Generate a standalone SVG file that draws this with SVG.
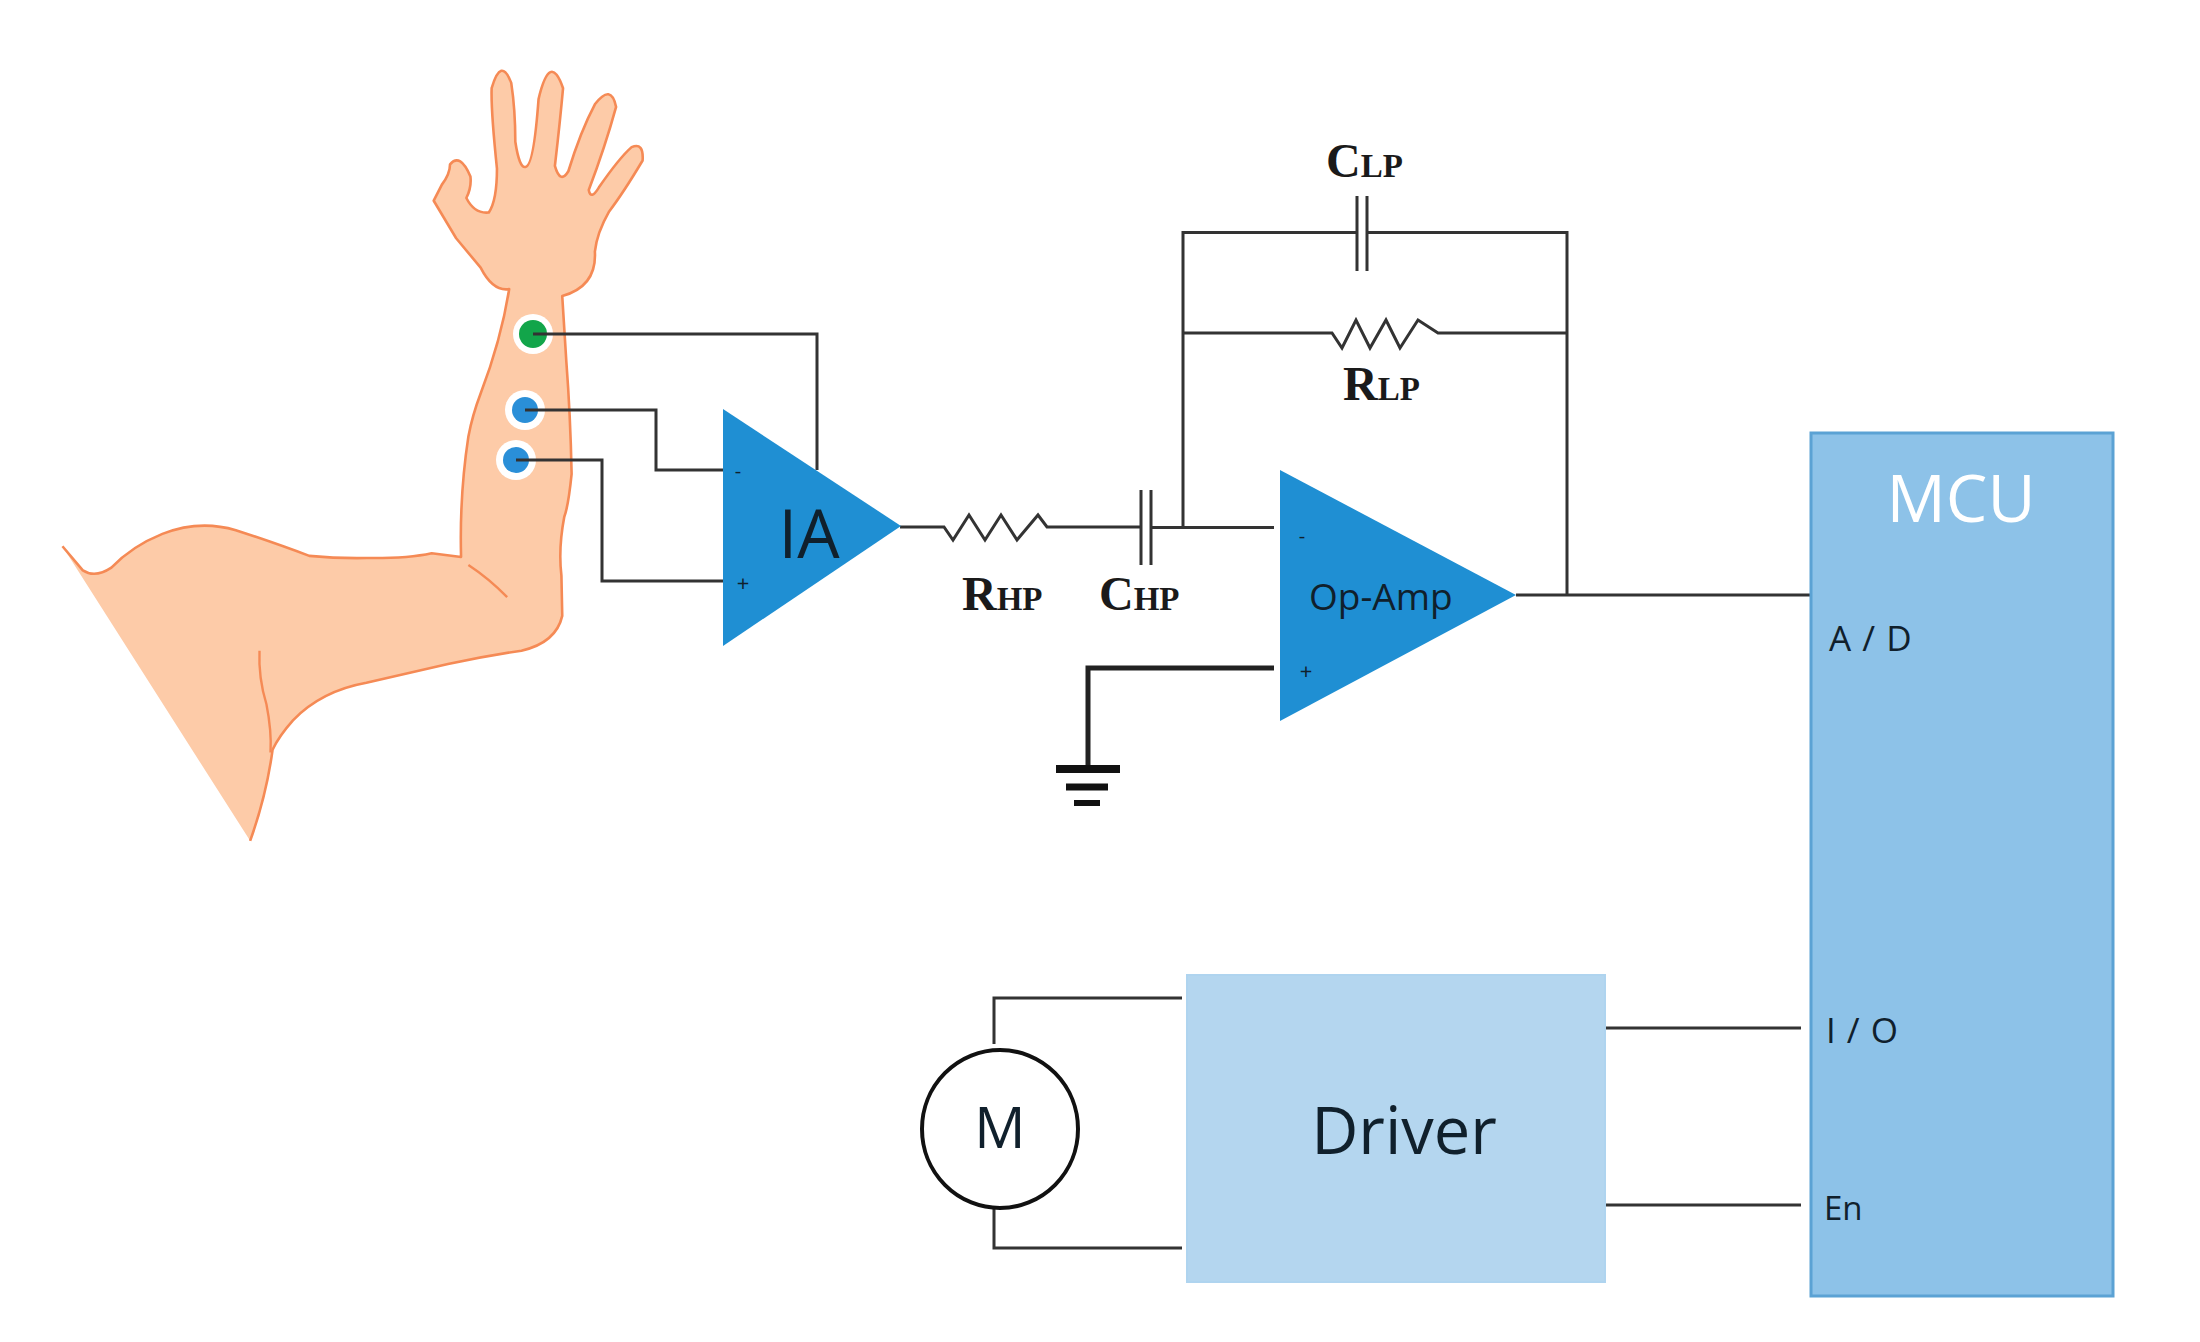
<svg xmlns="http://www.w3.org/2000/svg" width="2200" height="1342" viewBox="0 0 2200 1342">
<style>
.w{fill:none;stroke:#333;stroke-width:3;stroke-linejoin:miter}
.t{font-family:"Open Sans","Liberation Sans",sans-serif;fill:#10202c}
.s{font-family:"Liberation Serif",serif;font-weight:bold;fill:#1a1a1a;font-size:48px}
.s tspan{font-size:33px}
.amp{fill:#1f8fd3}
.arm{fill:#fdcba8;stroke:#f58a55;stroke-width:2.6;vector-effect:non-scaling-stroke;stroke-linejoin:round}
.crease{fill:none;stroke:#f58a55;stroke-width:2.4;vector-effect:non-scaling-stroke}
.halo{fill:#fff}
.gnd{stroke:#111;fill:none;stroke-linecap:butt}
</style>
<rect width="2200" height="1342" fill="#fff"/>
<g id="arm" transform="translate(40,40) scale(0.408,0.5357)">
<path class="arm" d="M55,945 L105,990 Q135,1005 175,985 Q225,945 300,922 Q390,895 480,915 Q580,940 660,963 Q730,968 800,967 Q900,968 960,958 L1032,965 Q1028,850 1050,740 Q1060,700 1080,660 Q1130,560 1150,465 Q1110,470 1080,425 L1020,370 L965,300 Q975,285 985,270 Q1005,250 1005,232 Q1030,210 1055,255 Q1058,275 1045,295 Q1065,325 1100,322 Q1120,300 1120,240 Q1105,130 1107,90 Q1130,30 1155,80 Q1165,130 1165,190 Q1175,240 1190,237 Q1210,235 1222,110 Q1250,20 1282,90 Q1275,150 1262,235 Q1275,270 1295,245 Q1325,170 1360,120 Q1400,80 1412,125 Q1385,200 1345,280 Q1350,300 1370,275 Q1420,220 1450,200 Q1480,190 1477,225 Q1430,285 1395,320 Q1365,360 1360,395 Q1365,460 1280,478 Q1285,540 1290,600 Q1300,700 1303,810 Q1295,870 1285,890 Q1270,950 1278,1000 L1280,1075 Q1265,1125 1180,1140 Q1090,1150 1000,1165 L800,1200 Q690,1215 620,1270 Q585,1300 570,1325 Q555,1410 515,1495"/>
<path class="crease" d="M1050,980 Q1100,1005 1145,1040"/>
<path class="crease" d="M538,1140 Q535,1190 555,1240 Q568,1290 565,1330"/>
</g>
<g id="electrode-green"><circle class="halo" cx="533" cy="334" r="20"/><circle cx="533" cy="334" r="14" fill="#12a54a"/></g>
<g id="electrode-blue-1"><circle class="halo" cx="525" cy="410" r="20"/><circle cx="525" cy="410" r="13" fill="#2a8fd8"/></g>
<g id="electrode-blue-2"><circle class="halo" cx="516" cy="460" r="20"/><circle cx="516" cy="460" r="13" fill="#2a8fd8"/></g>
<g id="connectors">
<path class="w" d="M533,334 H817 V470"/>
<path class="w" d="M525,410 H656 V470 H723"/>
<path class="w" d="M516,460 H602 V581 H723"/>
<path class="w" d="M900,527 H944 L953,540 L969,515 L985,540 L1001,515 L1017,540 L1038,515 L1047,527 H1141"/>
<path class="w" d="M1151,527.500 H1274"/>
<path class="w" d="M1183,527 V232.500 H1357"/>
<path class="w" d="M1367,232.500 H1567 V596"/>
<path class="w" d="M1183,333 H1332 L1342,348 L1356,320 L1370,348 L1386,320 L1400,348 L1418,320 L1438,333 H1567"/>
<path class="w" d="M1516,595 H1811"/>
<path class="w" d="M1182,998 H994 V1044"/>
<path class="w" d="M1182,1248 H994 V1202"/>
<path class="w" d="M1597,1028 H1801"/>
<path class="w" d="M1597,1205 H1801"/>
<path fill="none" stroke="#222" stroke-width="5" d="M1274,668 H1088 V765"/>
</g>
<g id="ia"><polygon class="amp" points="723,409 723,646 901,526"/><text class="t" x="809" y="558" font-size="67" text-anchor="middle">IA</text><text class="t" x="738" y="478" font-size="20" text-anchor="middle">-</text><text class="t" x="743" y="591" font-size="22" text-anchor="middle">+</text></g>
<g id="r-hp"><text class="s" x="962" y="610">R<tspan>HP</tspan></text></g>
<g id="c-hp"><path class="w" d="M1141,490 V565 M1151,490 V565"/><text class="s" x="1099" y="610">C<tspan>HP</tspan></text></g>
<g id="c-lp"><path class="w" d="M1357,196 V271 M1367,196 V271"/><text class="s" x="1326" y="177">C<tspan>LP</tspan></text></g>
<g id="r-lp"><text class="s" x="1343" y="400">R<tspan>LP</tspan></text></g>
<g id="op-amp"><polygon class="amp" points="1280,470 1280,721 1516,595"/><text class="t" x="1309" y="610" font-size="37">Op-Amp</text><text class="t" x="1302" y="543" font-size="20" text-anchor="middle">-</text><text class="t" x="1306" y="679" font-size="22" text-anchor="middle">+</text></g>
<g id="ground"><path class="gnd" stroke-width="8" d="M1056,769 H1120"/><path class="gnd" stroke-width="7" d="M1066,787 H1108"/><path class="gnd" stroke-width="6" d="M1074,803 H1100"/></g>
<g id="mcu"><rect x="1811" y="433" width="302" height="863" fill="#8dc2e8" stroke="#5ba2d4" stroke-width="3"/><text class="t" x="1961" y="522" font-size="66" text-anchor="middle" style="fill:#fff">MCU</text><text class="t" x="1829" y="651" font-size="35" letter-spacing="1">A / D</text><text class="t" x="1826" y="1043" font-size="35" letter-spacing="1">I / O</text><text class="t" x="1824" y="1220" font-size="33">En</text></g>
<g id="driver"><rect x="1187" y="975" width="418" height="307" fill="#b4d6ef" stroke="#afd4ef" stroke-width="2"/><text class="t" x="1404" y="1154" font-size="65" text-anchor="middle">Driver</text></g>
<g id="motor"><ellipse cx="1000" cy="1129" rx="78" ry="79" fill="#fff" stroke="#111" stroke-width="4"/><text class="t" x="1000" y="1148" font-size="57" text-anchor="middle">M</text></g>
</svg>
